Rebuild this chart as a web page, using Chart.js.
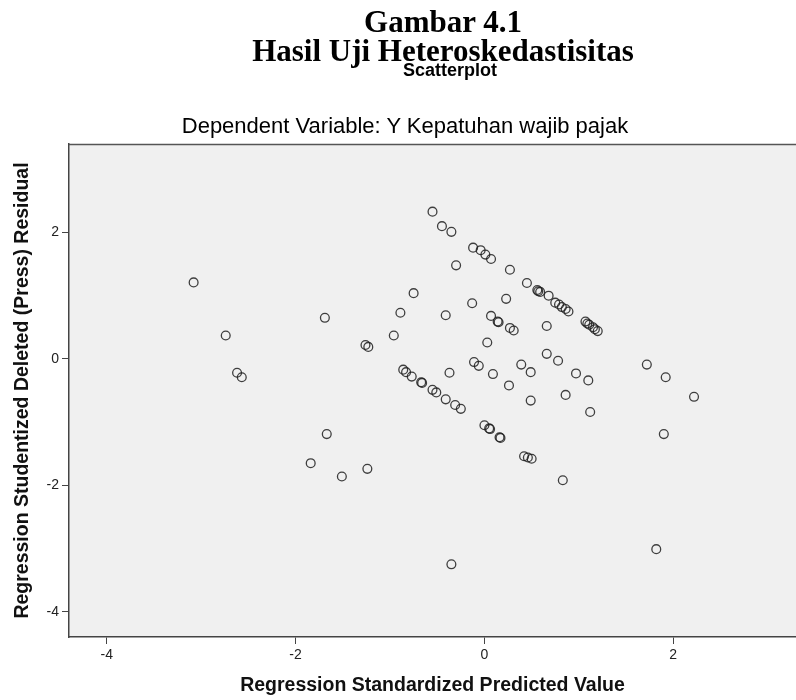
<!DOCTYPE html>
<html>
<head>
<meta charset="utf-8">
<script src="https://cdn.jsdelivr.net/npm/chart.js@4.4.0/dist/chart.umd.min.js"></script>
<style>
  html, body { margin: 0; padding: 0; background: #ffffff; }
  #wrap { position: relative; width: 796px; height: 700px; overflow: hidden; }
  canvas { position: absolute; left: 0; top: 0; }
  .hd { position: absolute; left: 0; width: 796px; text-align: center; white-space: nowrap; color: #000; }
  .serif { font-family: "Liberation Serif", "Times New Roman", serif; font-weight: bold; font-size: 31px; line-height: 31px; }
  .sans { font-family: "Liberation Sans", Arial, sans-serif; }
</style>
</head>
<body>
<div id="wrap">
  <canvas id="c" width="796" height="700"></canvas>
  <div class="hd serif" style="top:6px; left:45px;">Gambar 4.1</div>
  <div class="hd serif" style="top:35px; left:45px;">Hasil Uji Heteroskedastisitas</div>
  <div class="hd sans" style="top:61px; left:52px; font-size:18px; line-height:19px; font-weight:bold;">Scatterplot</div>
  <div class="hd sans" style="top:114px; left:7px; font-size:22px; line-height:23px;">Dependent Variable: Y Kepatuhan wajib pajak</div>
</div>
<script>
// Regression Standardized Predicted Value (x) and Studentized Deleted (Press) Residual (y)
const xValues = [
  -3.08, -2.74, -2.62, -2.57, -1.69, -1.67, -1.84, -1.51, -1.24, -1.26,
  -1.23, -0.96, -0.89, -0.75, -0.55, -0.45, -0.35, -0.30, -0.12, -0.04,
   0.01,  0.07,  0.27,  0.45,  0.56,  0.57,  0.59,  0.68,  0.75,  0.79,
   0.82,  0.86,  0.89,  1.07,  1.09,  1.11,  1.15,  1.17,  1.20, -0.41,
  -0.13,  0.23,  0.07,  0.14,  0.15,  0.27,  0.31,  0.66,  0.03,  0.66,
   0.78, -0.11, -0.06,  0.39,  0.49,  0.97,  1.10, -0.37,  0.09,  0.26,
   0.49,  0.86,  1.12, -0.86, -0.83, -0.77, -0.67, -0.66, -0.55, -0.51,
  -0.41, -0.31, -0.25,  0.00,  0.05,  0.06,  0.16,  0.17,  0.42,  0.46,
   0.50,  0.83, -0.35,  1.72,  1.92,  2.22,  1.90,  1.82
];
const yValues = [
   1.21,  0.37, -0.22, -0.29,  0.65, -1.19, -1.65, -1.86, -1.74,  0.22,
   0.19,  0.37,  0.73,  1.04,  2.33,  2.10,  2.01,  1.48,  1.76,  1.72,
   1.65,  1.58,  1.41,  1.20,  1.09,  1.07,  1.06,  1.00,  0.89,  0.86,
   0.82,  0.79,  0.75,  0.59,  0.56,  0.54,  0.50,  0.47,  0.44,  0.69,
   0.88,  0.95,  0.68,  0.59,  0.58,  0.49,  0.45,  0.52,  0.26,  0.08,
  -0.03, -0.05, -0.11, -0.09, -0.21, -0.23, -0.34, -0.22, -0.24, -0.42,
  -0.66, -0.57, -0.84, -0.17, -0.21, -0.28, -0.37, -0.38, -0.49, -0.53,
  -0.64, -0.73, -0.79, -1.05, -1.10, -1.11, -1.24, -1.25, -1.54, -1.56,
  -1.58, -1.92, -3.25, -0.09, -0.29, -0.60, -1.19, -3.01
];
const xTickValues = [-4, -2, 0, 2];
const yTickValues = [-4, -2, 0, 2];
const xTitle = 'Regression Standardized Predicted Value';
const yTitle = 'Regression Studentized Deleted (Press) Residual';

const FONT = '"Liberation Sans", Arial, sans-serif';

const plotBg = {
  id: 'plotBg',
  beforeDraw(chart) {
    const { ctx, chartArea: a } = chart;
    ctx.save();
    ctx.fillStyle = '#f0f0f0';
    ctx.fillRect(a.left, a.top, a.right - a.left, a.bottom - a.top);
    ctx.restore();
  },
  afterDraw(chart) {
    const { ctx, chartArea: a } = chart;
    ctx.save();
    ctx.strokeStyle = '#555555';
    ctx.lineWidth = 1.5;
    ctx.beginPath();
    ctx.moveTo(a.left, a.top + 0.5);
    ctx.lineTo(a.right, a.top + 0.5);
    ctx.stroke();
    ctx.restore();
  }
};

new Chart(document.getElementById('c'), {
  type: 'scatter',
  data: {
    datasets: [{
      data: xValues.map((x, i) => ({ x: x, y: yValues[i] })),
      pointStyle: 'circle',
      pointRadius: 4.4,
      pointHoverRadius: 4.4,
      pointBorderWidth: 1.3,
      pointBorderColor: 'rgba(30,30,30,0.85)',
      pointBackgroundColor: 'rgba(0,0,0,0)'
    }]
  },
  options: {
    responsive: false,
    animation: false,
    devicePixelRatio: 1,
    layout: { autoPadding: false, padding: { top: 144, right: 0, bottom: 0, left: 0 } },
    plugins: { legend: { display: false }, tooltip: { enabled: false }, title: { display: false } },
    scales: {
      x: {
        type: 'linear',
        min: -4.4,
        max: 3.3,
        afterBuildTicks: s => { s.ticks = xTickValues.map(v => ({ value: v })); },
        afterFit: s => { s.height = 63; },
        grid: { drawOnChartArea: false, drawTicks: true, tickLength: 7, color: '#444444', lineWidth: 1 },
        border: { display: true, color: '#444444', width: 1.5 },
        ticks: { color: '#222222', font: { family: FONT, size: 14 }, padding: 3, maxRotation: 0 },
        title: { display: true, text: xTitle, color: '#111111', font: { family: FONT, size: 19.5, weight: 'bold' }, padding: { top: 0, bottom: 3 } }
      },
      y: {
        type: 'linear',
        min: -4.4,
        max: 3.4,
        afterBuildTicks: s => { s.ticks = yTickValues.map(v => ({ value: v })); },
        afterFit: s => { s.width = 69; },
        grid: { drawOnChartArea: false, drawTicks: true, tickLength: 7, color: '#444444', lineWidth: 1 },
        border: { display: true, color: '#444444', width: 1.5 },
        ticks: { color: '#222222', font: { family: FONT, size: 14 }, padding: 3 },
        title: { display: true, text: yTitle, color: '#111111', font: { family: FONT, size: 19.5, weight: 'bold' }, padding: { top: 11, bottom: 0 } }
      }
    }
  },
  plugins: [plotBg]
});
</script>
</body>
</html>
